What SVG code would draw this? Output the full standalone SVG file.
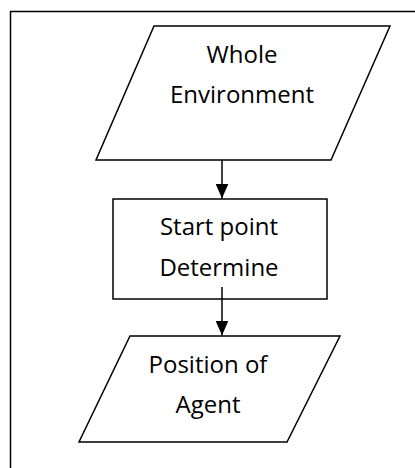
<svg xmlns="http://www.w3.org/2000/svg" width="415" height="468" viewBox="0 0 415 468">
  <style>
    .shape { fill: #ffffff; stroke: #000000; stroke-width: 1.5; }
    .frame { fill: none; stroke: #000000; stroke-width: 1.5; }
    .label { font-family: "Open Sans", "Liberation Sans", sans-serif; font-size: 24px; fill: #000000; text-anchor: middle; }
    .link { stroke: #000000; stroke-width: 1.5; fill: none; }
  </style>
  <defs>
    <marker id="arrowhead" markerWidth="15" markerHeight="13" refX="15" refY="6.5" orient="auto" markerUnits="userSpaceOnUse">
      <path d="M0,0 L15,6.5 L0,13 Z" fill="#000000"/>
    </marker>
  </defs>
  <rect width="415" height="468" fill="#ffffff"/>
  <!-- outer frame: top and left edges -->
  <path class="frame" d="M10.5,468 V11.5 H415"/>

  <g id="whole-environment">
    <polygon class="shape" points="154,26 390,26 331,160 96,160"/>
    <text class="label" x="242" y="63">Whole</text>
    <text class="label" x="242" y="103">Environment</text>
  </g>

  <g id="start-point">
    <rect class="shape" x="113" y="199" width="214" height="100"/>
    <text class="label" x="219" y="235">Start point</text>
    <text class="label" x="219" y="276">Determine</text>
  </g>

  <g id="position-of-agent">
    <polygon class="shape" points="130,336 340,336 287,442 79,442"/>
    <text class="label" x="208" y="373">Position of</text>
    <text class="label" x="208" y="413">Agent</text>
  </g>

  <g id="connectors">
    <line class="link" x1="222" y1="160" x2="222" y2="198.5" marker-end="url(#arrowhead)"/>
    <line class="link" x1="222" y1="287" x2="222" y2="335.5" marker-end="url(#arrowhead)"/>
  </g>
</svg>
